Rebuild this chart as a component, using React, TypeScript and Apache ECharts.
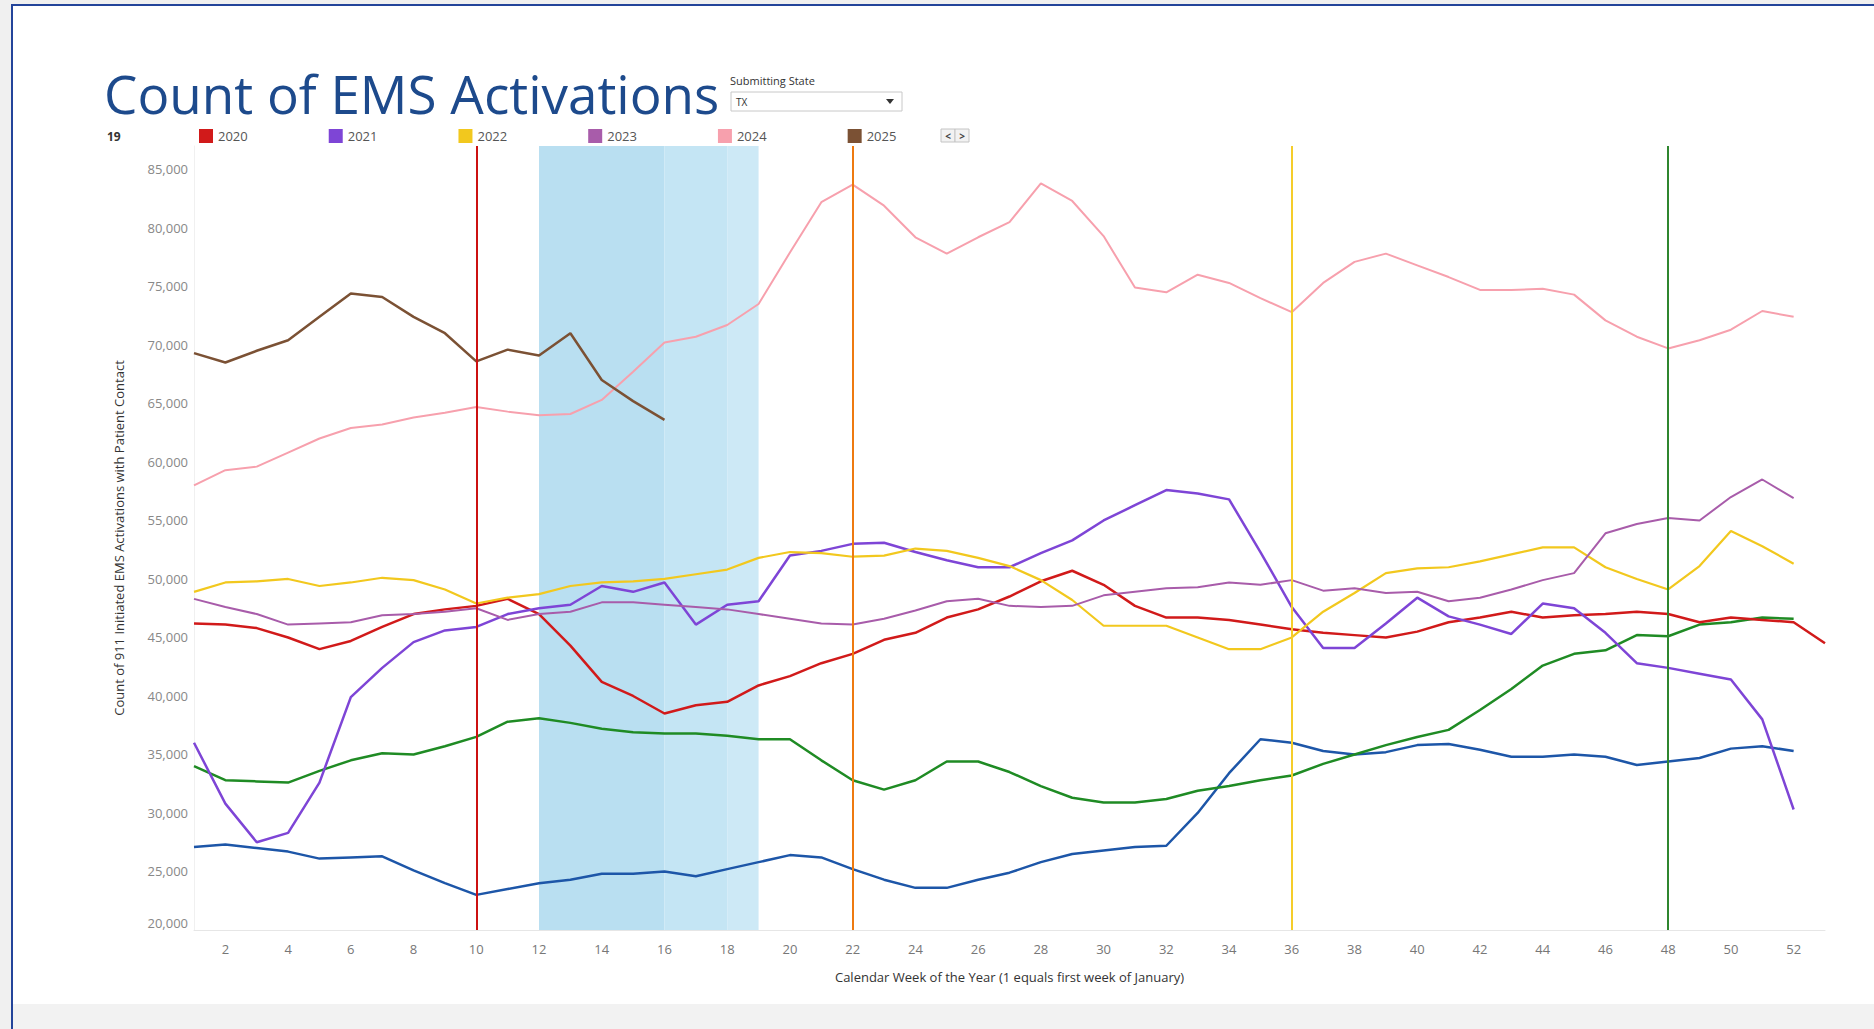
import React, { useEffect, useRef } from "react";
import * as echarts from "echarts";

const weeks = [1,2,3,4,5,6,7,8,9,10,11,12,13,14,15,16,17,18,19,20,21,22,23,24,25,26,27,28,29,30,31,32,33,34,35,36,37,38,39,40,41,42,43,44,45,46,47,48,49,50,51,52,53];

const y2018 = [27100,27300,27000,26700,26100,26200,26300,25100,24000,23000,23500,24000,24300,24800,24800,25000,24600,25200,25800,26400,26200,25200,24300,23600,23600,24300,24900,25800,26500,26800,27100,27200,30000,33400,36300,36000,35300,35000,35200,35800,35900,35400,34800,34800,35000,34800,34100,34400,34700,35500,35700,35300];
const y2019 = [34000,32800,32700,32600,33600,34500,35100,35000,35700,36500,37800,38100,37700,37200,36900,36800,36800,36600,36300,36300,34500,32800,32000,32800,34400,34400,33500,32300,31300,30900,30900,31200,31900,32300,32800,33200,34200,35000,35800,36500,37100,38800,40600,42600,43600,43900,45200,45100,46100,46300,46700,46600];
const y2020 = [46200,46100,45800,45000,44000,44700,45900,47000,47400,47700,48300,47000,44300,41200,40000,38500,39200,39500,40900,41700,42800,43600,44800,45400,46700,47400,48500,49800,50700,49500,47700,46700,46700,46500,46100,45700,45400,45200,45000,45500,46300,46700,47200,46700,46900,47000,47200,47000,46300,46700,46500,46300,44500];
const y2021 = [36000,30800,27500,28300,32600,39900,42400,44600,45600,45900,47000,47500,47800,49400,48900,49700,46100,47800,48100,52000,52400,53000,53100,52300,51600,51000,51000,52200,53300,55000,56300,57600,57300,56800,52300,47600,44100,44100,46200,48400,46800,46100,45300,47900,47500,45400,42800,42400,41900,41400,38000,30300];
const y2022 = [48900,49700,49800,50000,49400,49700,50100,49900,49100,47900,48400,48700,49400,49700,49800,50000,50400,50800,51800,52300,52200,51900,52000,52600,52400,51800,51100,49900,48200,46000,46000,46000,45000,44000,44000,45000,47200,48800,50500,50900,51000,51500,52100,52700,52700,51000,50000,49100,51100,54100,52800,51300];
const y2023 = [48300,47600,47000,46100,46200,46300,46900,47000,47200,47500,46500,47000,47200,48000,48000,47800,47600,47400,47000,46600,46200,46100,46600,47300,48100,48300,47700,47600,47700,48600,48900,49200,49300,49700,49500,49900,49000,49200,48800,48900,48100,48400,49100,49900,50500,53900,54700,55200,55000,57000,58500,56900];
const y2024 = [58000,59300,59600,60800,62000,62900,63200,63800,64200,64700,64300,64000,64100,65300,67700,70200,70700,71700,73500,77900,82200,83700,81900,79200,77800,79200,80500,83800,82300,79300,74900,74500,76000,75300,74000,72800,75300,77100,77800,76800,75800,74700,74700,74800,74300,72100,70700,69700,70400,71300,72900,72400];
const y2025 = [69300,68500,69500,70400,72400,74400,74100,72400,71000,68600,69600,69100,71000,67000,65200,63600];

const seriesNames = ["2018","2019","2020","2021","2022","2023","2024","2025"];
const seriesValues = [y2018, y2019, y2020, y2021, y2022, y2023, y2024, y2025];
const seriesColors = ["#1d56a8","#1f8b24","#d11a1a","#7e45d6","#f2c81e","#a85caa","#f7a0ad","#7b5134"];
const seriesWidths = [2.5,2.5,2.5,2.5,2.2,2,2,2.5];
const legendYears = ["2020","2021","2022","2023","2024","2025"];

const refWeeks = [10, 22, 36, 48];
const refColors = ["#cc1111", "#ee7a10", "#f5cd2a", "#2f862f"];
const bandStarts = [12, 16, 18];
const bandEnds = [16, 18, 19];
const bandColors = ["#b9dff1", "#c4e5f4", "#cde9f6"];

const yTicks = { min: 20000, max: 87000, step: 5000 };

const FONT = "'Open Sans', 'Noto Sans', sans-serif";

export default function App() {
  const ref = useRef<HTMLDivElement>(null);
  useEffect(() => {
    if (!ref.current) return;
    const chart = echarts.init(ref.current, undefined, { renderer: "svg" });
    const lineSeries = seriesNames.map((name, si) => ({
      name,
      type: "line",
      data: seriesValues[si].map((v, i) => [weeks[i], v]),
      showSymbol: false,
      symbol: "none",
      z: 3,
      itemStyle: { color: seriesColors[si] },
      lineStyle: { color: seriesColors[si], width: seriesWidths[si] },
      emphasis: { disabled: true },
    }));
    const option: any = {
      animation: false,
      textStyle: { fontFamily: FONT },
      grid: { left: 194, top: 146, width: 1631, height: 784 },
      legend: {
        data: legendYears,
        left: 194,
        top: 124,
        icon: "rect",
        itemWidth: 14,
        itemHeight: 14,
        itemGap: 81,
        selectedMode: false,
        textStyle: { fontSize: 13, color: "#555", fontFamily: FONT },
      },
      xAxis: {
        type: "value",
        min: 1,
        max: 53,
        interval: 1,
        axisLine: { show: true, lineStyle: { color: "#e6e6e6" } },
        axisTick: { show: false },
        splitLine: { show: false },
        axisLabel: {
          formatter: (v: number) => (v % 2 === 0 ? String(v) : ""),
          color: "#777",
          fontSize: 13,
          margin: 12,
          fontFamily: FONT,
        },
        name: "Calendar Week of the Year (1 equals first week of January)",
        nameLocation: "middle",
        nameGap: 40,
        nameTextStyle: { fontSize: 13, color: "#333", fontFamily: FONT },
      },
      yAxis: {
        type: "value",
        min: yTicks.min,
        max: yTicks.max,
        interval: yTicks.step,
        axisLine: { show: true, lineStyle: { color: "#f0f0f0" } },
        axisTick: { show: false },
        splitLine: { show: false },
        axisLabel: {
          showMaxLabel: false,
          formatter: (v: number) =>
            v === yTicks.min ? "{b|" + v.toLocaleString("en-US") + "}" : v.toLocaleString("en-US"),
          rich: { b: { padding: [0, 0, 14, 0], color: "#888", fontSize: 13, fontFamily: FONT } },
          color: "#888",
          fontSize: 13,
          margin: 6,
          fontFamily: FONT,
        },
        name: "Count of 911 Initiated EMS Activations with Patient Contact",
        nameLocation: "middle",
        nameRotate: 90,
        nameGap: 69,
        nameTextStyle: { fontSize: 13, color: "#333", fontFamily: FONT },
      },
      series: [
        {
          name: "bands",
          type: "line",
          data: [],
          z: 1,
          markArea: {
            silent: true,
            label: { show: false },
            data: bandStarts.map((s, i) => [
              { xAxis: s, itemStyle: { color: bandColors[i] } },
              { xAxis: bandEnds[i] },
            ]),
          },
        },
        ...lineSeries,
        {
          name: "refs",
          type: "line",
          data: [],
          z: 4,
          markLine: {
            silent: true,
            symbol: ["none", "none"],
            label: { show: false },
            data: refWeeks.map((w, i) => ({ xAxis: w, lineStyle: { color: refColors[i], width: 2, type: "solid" } })),
          },
        },
      ],
      graphic: [
        {
          type: "text",
          left: 104,
          top: 67,
          style: { text: "Count of EMS Activations", fontSize: 53, fill: "#1d4a8c", fontFamily: FONT },
        },
        {
          type: "text",
          x: 730,
          y: 80,
          style: { text: "Submitting State", fontSize: 11, fill: "#333", fontFamily: FONT, verticalAlign: "middle" },
        },
        {
          type: "rect",
          shape: { x: 731, y: 92, width: 171, height: 19 },
          style: { fill: "#fff", stroke: "#c8c8c8", lineWidth: 1 },
        },
        {
          type: "text",
          x: 736,
          y: 102,
          style: { text: "TX", fontSize: 10, fill: "#333", fontFamily: FONT, verticalAlign: "middle" },
        },
        {
          type: "polygon",
          shape: { points: [[886, 99], [894, 99], [890, 104]] },
          style: { fill: "#333" },
        },
        {
          type: "text",
          x: 107,
          y: 136,
          style: { text: "19", fontSize: 12, fontWeight: "bold", fill: "#333", fontFamily: FONT, verticalAlign: "middle" },
        },
        {
          type: "rect",
          shape: { x: 941, y: 129, width: 14, height: 13 },
          style: { fill: "#f2f2f2", stroke: "#c4c4c4", lineWidth: 1 },
        },
        {
          type: "rect",
          shape: { x: 955, y: 129, width: 14, height: 13 },
          style: { fill: "#f2f2f2", stroke: "#c4c4c4", lineWidth: 1 },
        },
        {
          type: "text",
          x: 948,
          y: 135.5,
          style: { text: "<", fontSize: 10, fontWeight: "bold", fill: "#444", fontFamily: FONT, align: "center", verticalAlign: "middle" },
        },
        {
          type: "text",
          x: 962,
          y: 135.5,
          style: { text: ">", fontSize: 10, fontWeight: "bold", fill: "#444", fontFamily: FONT, align: "center", verticalAlign: "middle" },
        },
      ],
    };
    chart.setOption(option);
    return () => chart.dispose();
  }, []);

  return (
    <div style={{ position: "fixed", left: 0, top: 0, width: 1874, height: 1029, background: "#f0f0f0", overflow: "hidden" }}>
      <div
        style={{
          position: "absolute",
          left: 11,
          top: 4,
          right: 0,
          bottom: 0,
          background: "#fff",
          borderTop: "2px solid #23449a",
          borderLeft: "2px solid #23449a",
        }}
      />
      <div style={{ position: "absolute", left: 13, top: 1004, right: 0, bottom: 0, background: "#f2f2f2" }} />
      <div ref={ref} style={{ position: "absolute", left: 0, top: 0, width: 1874, height: 1029 }} />
    </div>
  );
}
